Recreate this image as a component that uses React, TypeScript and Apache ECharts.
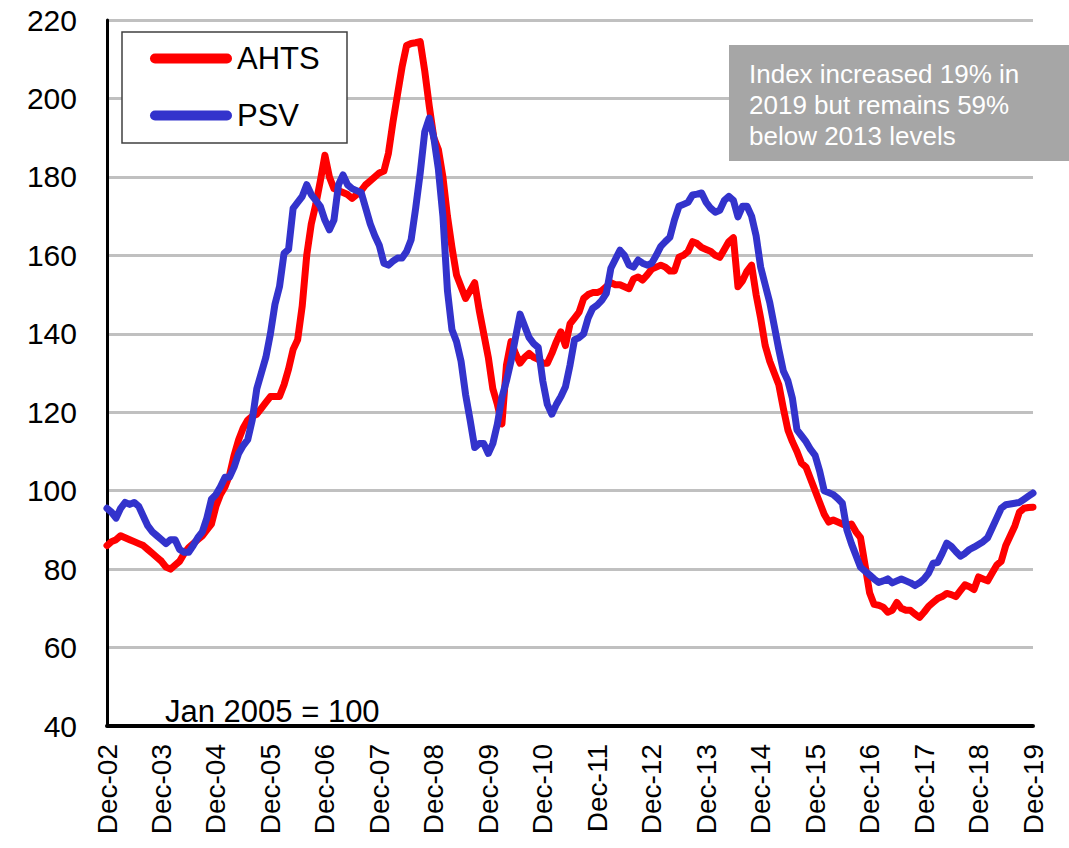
import React, { useEffect, useRef } from "react";
import * as echarts from "echarts";

const MONTHS = ["Jan", "Feb", "Mar", "Apr", "May", "Jun", "Jul", "Aug", "Sep", "Oct", "Nov", "Dec"];
const START_YEAR = 2002;
const N_POINTS = 205; // Dec-02 .. Dec-19 monthly

const categories: string[] = [];
for (let i = 0; i < N_POINTS; i++) {
  const k = 11 + i;
  const m = k % 12;
  const y = START_YEAR + Math.floor(k / 12);
  categories.push(`${MONTHS[m]}-${String(y % 100).padStart(2, "0")}`);
}

const ahts: number[] = [
  86,
  87, 87.5, 88.5, 88, 87.5, 87, 86.5, 86, 85, 84, 83, 82,
  80.5, 80, 81, 82, 84, 85.5, 86.5, 87.5, 88.5, 90, 91.5, 96,
  99, 101, 104, 109, 113, 116, 118, 119, 119.5, 121, 122.5, 124,
  124, 124, 127, 131, 136, 138.5, 147, 160, 168, 173, 179, 185.5,
  180, 177, 176.5, 176, 175.5, 174.5, 175.5, 176.5, 178, 179, 180, 181,
  181.5, 186, 194, 201, 208, 213.5, 214, 214.2, 214.5, 207, 198, 190,
  187, 180, 170, 162, 155, 152, 149, 151, 153, 146, 140, 134,
  126, 122, 117, 132, 138, 135, 132.5, 134, 135, 134, 133.5, 132.5,
  132.5, 135, 138, 140.5, 137, 142.5, 144, 145.5, 149, 150, 150.5, 150.5,
  151, 152, 153, 152.5, 152.5, 152, 151.5, 154, 154.5, 153.7, 155, 156.5,
  157, 157.5, 157, 156, 156, 159.5, 160, 161, 163.5, 163, 162, 161.5,
  161, 160, 159.5, 161.5, 163.5, 164.5, 152, 153.5, 156, 157.5, 150, 144,
  137, 133, 130, 127, 121, 115.5, 112.5, 110, 107, 106, 103, 100,
  97, 94, 92, 92.5, 92, 91.5, 91, 91.5, 89.5, 88, 81, 74,
  71, 70.8, 70.3, 69, 69.5, 71.5, 70, 69.5, 69.5, 68.5, 67.7, 69,
  70.5, 71.5, 72.5, 73, 73.8, 73.5, 73, 74.5, 76, 75.5, 74.8, 78,
  77.5, 77, 79, 81, 82, 86, 88.5, 91, 94.5, 95.5, 95.7, 95.8,
];

const psv: number[] = [
  95.5,
  94.5, 93, 95.5, 97, 96.5, 97, 96, 93.5, 91, 89.5, 88.5, 87.5,
  86.5, 87.5, 87.5, 85, 84.3, 84.3, 86, 88, 89.5, 93, 97.8, 99,
  101, 103.4, 103.5, 106, 109.5, 111.5, 113, 118, 126, 130, 134, 140,
  147.5, 152, 160.5, 161.5, 172, 173.5, 175, 178, 175.5, 174, 172.5, 169,
  166.5, 169, 178, 180.5, 178, 177, 176.5, 176, 172, 168, 165, 162.5,
  158, 157.5, 158.5, 159.3, 159.3, 161, 164, 172, 181, 191.5, 195, 190,
  182, 170, 151, 141, 138, 133, 124.5, 118, 111, 112, 112, 109.5,
  112, 117, 123.8, 128, 133, 139, 145, 142, 139, 137.5, 136.5, 128,
  122, 119.5, 122, 124, 126.5, 132, 138.5, 139, 140, 144, 146.5, 147.3,
  148.5, 150.3, 156.7, 159, 161.3, 160, 157.5, 157, 158.8, 158, 157.5, 158,
  160, 162.3, 163.5, 164.6, 169, 172.5, 173, 173.5, 175.4, 175.6, 175.9, 173.5,
  172, 171, 171.5, 174, 175, 174, 169.8, 172.5, 172.5, 170, 165, 157,
  152.5, 148, 142, 136, 130.5, 128, 123.5, 115.5, 114, 112.5, 110.5, 109,
  105, 100, 99.5, 99, 98, 96.8, 90, 86.5, 83.5, 80.5, 79.5, 78.5,
  77.5, 76.6, 77, 77.5, 76.5, 77, 77.5, 77, 76.5, 75.8, 76.5, 77.5,
  79, 81.5, 81.7, 84, 86.6, 85.8, 84.5, 83.3, 84, 85, 85.6, 86.3,
  87, 88, 90.5, 93, 95.5, 96.4, 96.6, 96.8, 97, 97.8, 98.6, 99.4,
];

const seriesNames = ["AHTS", "PSV"];
const seriesColors = ["#ff0000", "#3333cc"];
const baseNote = "Jan 2005 = 100";
const annotationLines = ["Index increased 19% in", "2019 but remains 59%", "below 2013 levels"];

const FONT = "'Liberation Sans', Arial, Helvetica, sans-serif";

export default function App() {
  const ref = useRef<HTMLDivElement>(null);

  useEffect(() => {
    document.body.style.margin = "0";
    if (!ref.current) return;
    const chart = echarts.init(ref.current, undefined, { renderer: "svg" });
    const capsule = "path://M5,0 H77 A5,5 0 0 1 77,10 H5 A5,5 0 0 1 5,0 Z";
    chart.setOption({
      animation: false,
      backgroundColor: "#ffffff",
      textStyle: { fontFamily: FONT },
      grid: { left: 107, right: 36, top: 20, bottom: 122, containLabel: false },
      legend: {
        orient: "vertical",
        left: 150,
        top: 43,
        padding: 0,
        itemWidth: 82,
        itemHeight: 10,
        itemGap: 26,
        icon: capsule,
        data: seriesNames,
        textStyle: { fontSize: 31, color: "#000", fontFamily: FONT },
        z: 10,
      },
      xAxis: {
        type: "category",
        data: categories,
        boundaryGap: false,
        axisLine: { show: true, lineStyle: { color: "#000", width: 4 } },
        axisTick: { show: false },
        splitLine: { show: false },
        axisLabel: {
          interval: (idx: number) => idx % 12 === 0,
          rotate: 90,
          fontSize: 28,
          margin: 18,
          color: "#000",
          fontFamily: FONT,
        },
      },
      yAxis: {
        type: "value",
        min: 40,
        max: 220,
        interval: 20,
        axisLine: { show: true, lineStyle: { color: "#000", width: 3 } },
        axisTick: { show: false },
        splitLine: { show: true, lineStyle: { color: "#c0c0c0", width: 3 } },
        axisLabel: { fontSize: 30, margin: 30, color: "#000", fontFamily: FONT },
      },
      series: [
        {
          name: seriesNames[0],
          type: "line",
          data: ahts,
          showSymbol: false,
          symbol: "none",
          color: seriesColors[0],
          lineStyle: { color: seriesColors[0], width: 7, cap: "round", join: "round" },
          z: 2,
        },
        {
          name: seriesNames[1],
          type: "line",
          data: psv,
          showSymbol: false,
          symbol: "none",
          color: seriesColors[1],
          lineStyle: { color: seriesColors[1], width: 7, cap: "round", join: "round" },
          z: 3,
        },
      ],
      graphic: [
        {
          type: "rect",
          z: 8,
          shape: { x: 122, y: 32, width: 225, height: 111 },
          style: { fill: "#ffffff", stroke: "#404040", lineWidth: 1.5 },
        },
        {
          type: "rect",
          z: 8,
          shape: { x: 729, y: 45, width: 340, height: 116 },
          style: { fill: "#a6a6a6" },
        },
        {
          type: "text",
          z: 9,
          x: 749,
          y: 58,
          style: {
            text: annotationLines.join("\n"),
            fill: "#ffffff",
            fontSize: 26,
            lineHeight: 31,
            fontFamily: FONT,
          },
        },
        {
          type: "text",
          z: 9,
          x: 165,
          y: 711,
          style: {
            text: baseNote,
            fill: "#000",
            fontSize: 31,
            verticalAlign: "middle",
            fontFamily: FONT,
          },
        },
      ],
    });
    return () => chart.dispose();
  }, []);

  return <div ref={ref} style={{ width: 1069, height: 848 }} />;
}
